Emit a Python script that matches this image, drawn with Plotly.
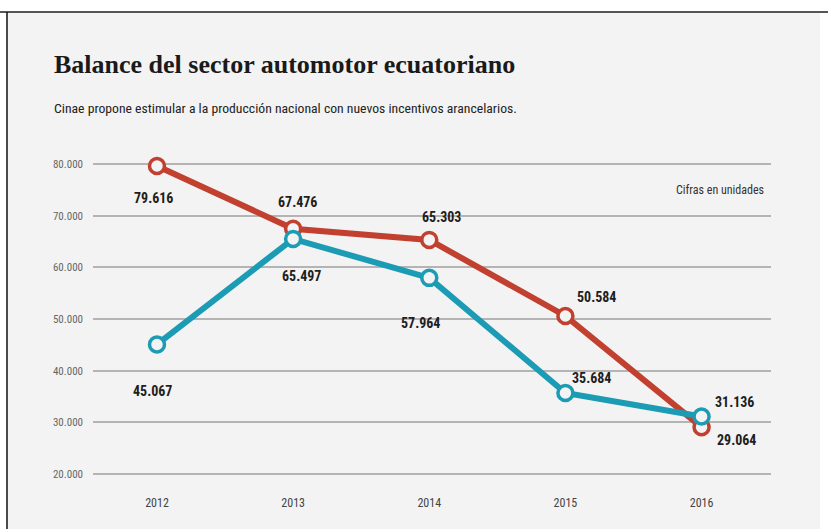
import plotly.graph_objects as go

# ---- data -------------------------------------------------------------
years = ["2012", "2013", "2014", "2015", "2016"]
serie_roja = [79616, 67476, 65303, 50584, 29064]
serie_azul = [45067, 65497, 57964, 35684, 31136]
etiquetas_roja = ["79.616", "67.476", "65.303", "50.584", "29.064"]
etiquetas_azul = ["45.067", "65.497", "57.964", "35.684", "31.136"]
y_ticks = [20000, 30000, 40000, 50000, 60000, 70000, 80000]
y_ticktext = ["20.000", "30.000", "40.000", "50.000", "60.000", "70.000", "80.000"]

titulo = "Balance del sector automotor ecuatoriano"
subtitulo = "Cinae propone estimular a la producción nacional con nuevos incentivos arancelarios."
nota = "Cifras en unidades"

# ---- styling ----------------------------------------------------------
ROJO = "#c2402f"
AZUL = "#1c9bb4"
PANEL = "#f3f3f3"
NARROW = "Roboto Condensed, Liberation Sans Narrow, Roboto, Arial, sans-serif"

W, H = 828, 529
L, R, T, B = 93, 57, 150, 41          # plot-area margins (px)
PW, PH = W - L - R, H - T - B

def px(x):
    return (x - L) / PW

def py(y):
    return (H - B - y) / PH

# label offsets in pixels (dx, dy) relative to each marker
off_roja = [(-3, -32), (4, 27), (12, 23), (31, 19), (35, -13)]
off_azul = [(-4, -47), (8, -37), (-9, -45), (26, 15), (33, 14)]

xs = list(range(len(years)))

fig = go.Figure()
for vals, color in ((serie_roja, ROJO), (serie_azul, AZUL)):
    fig.add_trace(go.Scatter(
        x=xs, y=vals, mode="lines+markers",
        line=dict(color=color, width=6),
        marker=dict(size=15, color=PANEL, line=dict(color=color, width=3.5)),
        hoverinfo="skip", showlegend=False,
    ))

annotations = []
for vals, labels, offs in ((serie_roja, etiquetas_roja, off_roja),
                           (serie_azul, etiquetas_azul, off_azul)):
    for i, (v, t, (dx, dy)) in enumerate(zip(vals, labels, offs)):
        annotations.append(dict(
            x=i, y=v, xref="x", yref="y", text=t, showarrow=False,
            xshift=dx, yshift=dy,
            font=dict(family=NARROW, size=14, color="#1e1e1e", weight="bold"),
        ))

annotations += [
    dict(xref="paper", yref="paper", x=px(52), y=py(64), xanchor="left", yanchor="middle",
         text=titulo, showarrow=False,
         font=dict(family="Liberation Serif, serif", size=26, color="#1a1a1a", weight="bold")),
    dict(xref="paper", yref="paper", x=px(52), y=py(108), xanchor="left", yanchor="middle",
         text=subtitulo, showarrow=False,
         font=dict(family=NARROW, size=13.7, color="#222222")),
    dict(xref="paper", yref="paper", x=px(766), y=py(190), xanchor="right", yanchor="middle",
         text=nota, showarrow=False,
         font=dict(family=NARROW, size=12, color="#333333")),
]

shapes = [
    # grey panel
    dict(type="rect", xref="paper", yref="paper", x0=px(7), x1=px(820), y0=py(H + 5), y1=py(12),
         fillcolor=PANEL, line=dict(width=0), layer="below"),
    # top rule
    dict(type="line", xref="paper", yref="paper", x0=px(-5), x1=px(W + 5), y0=py(12), y1=py(12),
         line=dict(color="#555555", width=2)),
    # left rule
    dict(type="line", xref="paper", yref="paper", x0=px(7), x1=px(7), y0=py(12), y1=py(H + 5),
         line=dict(color="#111111", width=1.5)),
]

fig.update_layout(
    width=W, height=H,
    margin=dict(l=L, r=R, t=T, b=B, pad=0),
    paper_bgcolor="white", plot_bgcolor="rgba(0,0,0,0)",
    annotations=annotations, shapes=shapes,
    xaxis=dict(
        tickvals=xs, ticktext=years, range=[-0.47, 4.51],
        showgrid=False, zeroline=False, showline=False, ticks="",
        tickfont=dict(family=NARROW, size=12, color="#444444"),
        ticklabelstandoff=6,
    ),
    yaxis=dict(
        tickvals=y_ticks, ticktext=y_ticktext, range=[17290, 82710],
        showgrid=True, gridcolor="#b4b4b4", gridwidth=2, zeroline=False, showline=False,
        ticks="", tickfont=dict(family=NARROW, size=11, color="#666666"),
        ticklabelstandoff=9,
    ),
)

fig.write_html("out.html")
